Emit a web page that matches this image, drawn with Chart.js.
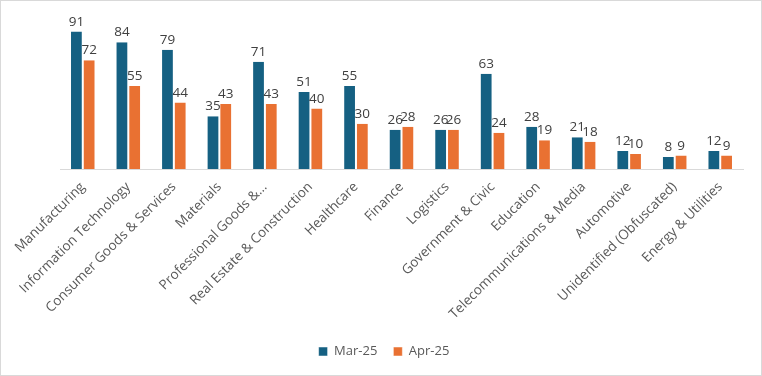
<!DOCTYPE html>
<html>
<head>
<meta charset="utf-8">
<script src="https://cdn.jsdelivr.net/npm/chart.js@4.4.1/dist/chart.umd.min.js"></script>
<style>
  body { margin: 0; background: #fff; }
  canvas { display: block; }
</style>
</head>
<body>
<canvas id="myChart" width="762" height="376"></canvas>
<script>
var categories = [
  "Manufacturing", "Information Technology", "Consumer Goods & Services", "Materials",
  "Professional Goods &...", "Real Estate & Construction", "Healthcare", "Finance",
  "Logistics", "Government & Civic", "Education", "Telecommunications & Media",
  "Automotive", "Unidentified (Obfuscated)", "Energy & Utilities"
];
var mar25 = [91, 84, 79, 35, 71, 51, 55, 26, 26, 63, 28, 21, 12, 8, 12];
var apr25 = [72, 55, 44, 43, 43, 40, 30, 28, 26, 24, 19, 18, 10, 9, 9];

var FONT = "'Open Sans', 'Liberation Sans', sans-serif";

// value labels above each bar + light frame round the chart
var barLabels = {
  id: "barLabels",
  afterDatasetsDraw: function (chart) {
    var ctx = chart.ctx;
    ctx.save();
    ctx.font = "13.5px " + FONT;
    ctx.fillStyle = "#404040";
    ctx.textAlign = "center";
    ctx.textBaseline = "bottom";
    chart.data.datasets.forEach(function (ds, i) {
      chart.getDatasetMeta(i).data.forEach(function (bar, j) {
        ctx.fillText(ds.data[j], bar.x, bar.y - 3);
      });
    });
    ctx.strokeStyle = "#d9d9d9";
    ctx.lineWidth = 1;
    ctx.strokeRect(0.5, 0.5, chart.width - 1, chart.height - 1);
    ctx.restore();
  }
};

var ctx = document.getElementById("myChart").getContext("2d");
var myChart = new Chart(ctx, {
  type: "bar",
  data: {
    labels: categories,
    datasets: [
      {
        label: "Mar-25",
        data: mar25,
        backgroundColor: "#156082",
        borderColor: "#ffffff",
        borderWidth: { left: 1, right: 1, top: 0, bottom: 0 },
        categoryPercentage: 0.56,
        barPercentage: 1.0,
      },
      {
        label: "Apr-25",
        data: apr25,
        backgroundColor: "#E97132",
        borderColor: "#ffffff",
        borderWidth: { left: 1, right: 1, top: 0, bottom: 0 },
        categoryPercentage: 0.56,
        barPercentage: 1.0,
      },
    ],
  },
  options: {
    responsive: false,
    animation: false,
    layout: {
      padding: { top: 18, left: 25, right: 19, bottom: 8 },
    },
    scales: {
      x: {
        grid: { display: false },
        border: { display: true, color: "#d9d9d9", width: 1 },
        ticks: {
          color: "#595959",
          font: { family: FONT, size: 13.5 },
          minRotation: 45,
          maxRotation: 45,
          autoSkip: false,
          padding: 2,
        },
        afterFit: function (scale) {
          scale.height = 160;
        },
      },
      y: {
        display: true,
        min: 0,
        max: 100,
        grid: { display: false },
        border: { display: false },
        ticks: { display: false },
        afterFit: function (scale) {
          scale.width = 35;
        },
      },
    },
    plugins: {
      legend: {
        position: "bottom",
        labels: {
          color: "#595959",
          font: { family: FONT, size: 13 },
          boxWidth: 9,
          boxHeight: 9,
          padding: 16,
        },
      },
      tooltip: { enabled: false },
    },
  },
  plugins: [barLabels],
});
</script>
</body>
</html>
